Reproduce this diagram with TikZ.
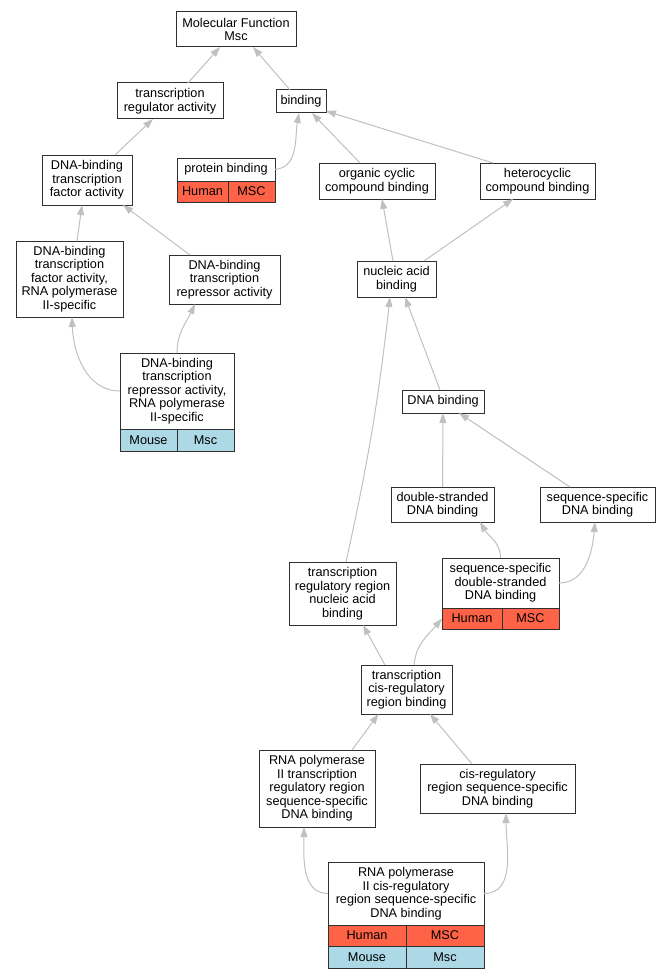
\documentclass[tikz,border=0pt]{standalone}
\usepackage{fontspec}
\setmainfont{Liberation Sans}
\usetikzlibrary{arrows.meta,positioning}
\definecolor{tomato}{HTML}{FF6347}
\definecolor{lightblue}{HTML}{ADD8E6}
\definecolor{edgegray}{HTML}{C0C0C0}
\definecolor{boxline}{HTML}{303030}

\tikzset{
  term/.style={draw=boxline, line width=1pt, fill=white, align=center,
    inner sep=0pt, outer sep=0pt, font=\fontsize{12.7}{13.5}\selectfont},
  cell/.style={term, anchor=north west},
  human/.style={cell, fill=tomato},
  mouse/.style={cell, fill=lightblue},
  isa/.style={draw=edgegray, line width=1pt, -{Triangle[length=10pt,width=7pt]}},
}

\begin{document}
\begin{tikzpicture}[x=1pt,y=-1pt]
\useasboundingbox (0,0) rectangle (671,979);

% terms
\node[term, minimum width=120pt, minimum height=35pt] (mf) at (236,29.5) {Molecular Function\\Msc};
\node[term, minimum width=106pt, minimum height=36pt] (tra) at (170,101) {transcription\\regulator activity};
\node[term, minimum width=50pt, minimum height=23pt] (bind) at (301,101.5) {binding};
\node[term, minimum width=90pt, minimum height=50pt] (dbtfa) at (87,180) {DNA-binding\\transcription\\factor activity};
\node[term, minimum width=98pt, minimum height=23pt] (pb) at (226,169.5) {protein binding};
\node[term, minimum width=116pt, minimum height=36pt] (occb) at (377,181) {organic cyclic\\compound binding};
\node[term, minimum width=115pt, minimum height=36pt] (hccb) at (537.5,181) {heterocyclic\\compound binding};
\node[term, minimum width=79pt, minimum height=36pt] (nab) at (396.5,279) {nucleic acid\\binding};
\node[term, minimum width=82pt, minimum height=23pt] (dnab) at (443,401.5) {DNA binding};
\node[term, minimum width=107pt, minimum height=76pt] (dbtfaii) at (69.5,279) {DNA-binding\\transcription\\factor activity,\\RNA polymerase\\II-specific};
\node[term, minimum width=111pt, minimum height=49pt] (dbtra) at (224.5,279.5) {DNA-binding\\transcription\\repressor activity};
\node[term, minimum width=114pt, minimum height=76pt] (dbtraii) at (177,391) {DNA-binding\\transcription\\repressor activity,\\RNA polymerase\\II-specific};
\node[term, minimum width=103pt, minimum height=35pt] (dsdna) at (442.5,504.5) {double-stranded\\DNA binding};
\node[term, minimum width=115pt, minimum height=35pt] (ssdna) at (597.5,504.5) {sequence-specific\\DNA binding};
\node[term, minimum width=117pt, minimum height=50pt] (ssds) at (500.5,583) {sequence-specific\\double-stranded\\DNA binding};
\node[term, minimum width=107pt, minimum height=63pt] (trrnab) at (342.5,593.5) {transcription\\regulatory region\\nucleic acid\\binding};
\node[term, minimum width=91pt, minimum height=49pt] (tcrb) at (406.5,689.5) {transcription\\cis-regulatory\\region binding};
\node[term, minimum width=116pt, minimum height=77pt] (rtrr) at (317,788.5) {RNA polymerase\\II transcription\\regulatory region\\sequence-specific\\DNA binding};
\node[term, minimum width=155pt, minimum height=49pt] (crr) at (497.5,788.5) {cis-regulatory\\region sequence-specific\\DNA binding};
\node[term, minimum width=156pt, minimum height=63pt] (rcrr) at (406,893.5) {RNA polymerase\\II cis-regulatory\\region sequence-specific\\DNA binding};

% species cells
\node[human, minimum width=51pt, minimum height=21pt] (pbh) at (pb.south west) {Human};
\node[human, minimum width=47pt, minimum height=21pt] (pbm) at (pbh.north east) {MSC};
\node[mouse, minimum width=57pt, minimum height=22pt] (dbtraiimo) at (dbtraii.south west) {Mouse};
\node[mouse, minimum width=57pt, minimum height=22pt] (dbtraiims) at (dbtraiimo.north east) {Msc};
\node[human, minimum width=60pt, minimum height=21pt] (ssdsh) at (ssds.south west) {Human};
\node[human, minimum width=57pt, minimum height=21pt] (ssdsm) at (ssdsh.north east) {MSC};
\node[human, minimum width=78pt, minimum height=21pt] (rcrrh) at (rcrr.south west) {Human};
\node[human, minimum width=78pt, minimum height=21pt] (rcrrm) at (rcrrh.north east) {MSC};
\node[mouse, minimum width=78pt, minimum height=22pt] (rcrrmo) at (rcrrh.south west) {Mouse};
\node[mouse, minimum width=78pt, minimum height=22pt] (rcrrms) at (rcrrmo.north east) {Msc};

% is_a edges
\draw[isa] ([xshift=18pt]tra.north) -- ([xshift=-16pt]mf.south);
\draw[isa] ([xshift=-11pt]bind.north) -- ([xshift=17pt]mf.south);
\draw[isa] ([xshift=28pt]dbtfa.north) -- ([xshift=-17pt]tra.south);
\draw[isa] (pb.east) to[out=5,in=-100] ([xshift=-2pt]bind.south);
\draw[isa] ([xshift=-17pt]occb.north) -- ([xshift=11pt]bind.south);
\draw[isa] ([xshift=-44.5pt]hccb.north) -- ([yshift=2pt]bind.south east);
\draw[isa] ([xshift=-3.5pt]nab.north) -- ([xshift=5pt]occb.south);
\draw[isa] ([xshift=27.5pt]nab.north) -- ([xshift=-24.5pt]hccb.south);
\draw[isa] ([xshift=7.5pt]dbtfaii.north) -- ([xshift=-5pt]dbtfa.south);
\draw[isa] ([xshift=-34.5pt]dbtra.north) -- ([xshift=36pt]dbtfa.south);
\draw[isa] (dbtraii.west) to[out=180,in=-88] ([xshift=2.5pt]dbtfaii.south);
\draw[isa] (dbtraii.north) to[out=90,in=-115] ([xshift=-29.5pt]dbtra.south);
\draw[isa] ([xshift=-3pt]dnab.north) -- ([xshift=8.5pt]nab.south);
\draw[isa] ([xshift=3.5pt]trrnab.north) to[bend right=3] ([xshift=-6.5pt]nab.south);
\draw[isa] (dsdna) -- (dnab);
\draw[isa] ([xshift=-27.5pt]ssdna.north) -- ([xshift=16pt]dnab.south);
\draw[isa] (ssds.north) to[out=90,in=-60] ([xshift=37.5pt]dsdna.south);
\draw[isa] (ssds.east) to[out=0,in=-95] ([xshift=-2.5pt]ssdna.south);
\draw[isa] ([xshift=-21.5pt]tcrb.north) -- ([xshift=20.5pt]trrnab.south);
\draw[isa] ([xshift=7.5pt]tcrb.north) to[out=85,in=-130] (ssdsh.west);
\draw[isa] ([xshift=35pt]rtrr.north) -- ([xshift=-28pt]tcrb.south);
\draw[isa] ([xshift=-25.5pt]crr.north) -- ([xshift=23.5pt]tcrb.south);
\draw[isa] (rcrr.west) to[out=180,in=-90] ([xshift=-13pt]rtrr.south);
\draw[isa] (rcrr.east) to[out=0,in=-90] ([xshift=8.5pt]crr.south);
\end{tikzpicture}
\end{document}
